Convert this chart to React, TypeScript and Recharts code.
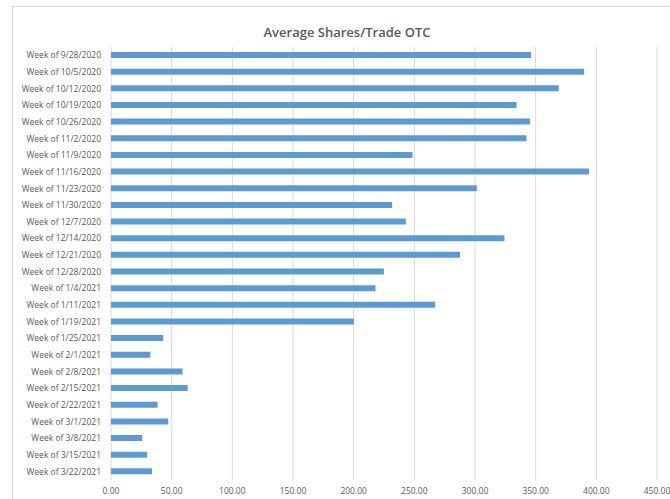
import { BarChart, Bar, XAxis, YAxis, CartesianGrid } from "recharts";

const WEEKS = [
  "Week of 9/28/2020",
  "Week of 10/5/2020",
  "Week of 10/12/2020",
  "Week of 10/19/2020",
  "Week of 10/26/2020",
  "Week of 11/2/2020",
  "Week of 11/9/2020",
  "Week of 11/16/2020",
  "Week of 11/23/2020",
  "Week of 11/30/2020",
  "Week of 12/7/2020",
  "Week of 12/14/2020",
  "Week of 12/21/2020",
  "Week of 12/28/2020",
  "Week of 1/4/2021",
  "Week of 1/11/2021",
  "Week of 1/19/2021",
  "Week of 1/25/2021",
  "Week of 2/1/2021",
  "Week of 2/8/2021",
  "Week of 2/15/2021",
  "Week of 2/22/2021",
  "Week of 3/1/2021",
  "Week of 3/8/2021",
  "Week of 3/15/2021",
  "Week of 3/22/2021",
];

const AVG_SHARES = [
  346.2, 389.9, 369.0, 334.2, 345.4, 342.4, 248.5, 394.0, 301.5, 231.7, 243.0, 324.3, 287.7,
  224.9, 218.0, 267.2, 200.2, 43.1, 32.4, 59.0, 63.2, 38.4, 47.2, 25.8, 29.7, 33.8,
];

const X_TICKS = [0, 50, 100, 150, 200, 250, 300, 350, 400, 450];

const data = WEEKS.map((week, i) => ({ week, value: AVG_SHARES[i] }));

const FONT = "'Open Sans', 'Noto Sans', sans-serif";
const TEXT = "#595959";

// plain svg text so long week labels don't get wrapped
function WeekTick(props: any) {
  const { x, y, payload } = props;
  return (
    <text x={x} y={y} dy="0.35em" textAnchor="end" fontSize={8.5} fill={TEXT} fontFamily={FONT}>
      {payload.value}
    </text>
  );
}

export default function App() {
  return (
    <div style={{ position: "relative", width: 670, height: 499, overflow: "hidden", background: "#fff", fontFamily: FONT }}>
      <style>{`body{margin:0}`}</style>
      <div
        style={{
          position: "absolute",
          left: 12,
          top: 6,
          width: 720,
          height: 540,
          border: "1px solid #D9D9D9",
        }}
      />
      <div
        style={{
          position: "absolute",
          left: 0,
          width: 694,
          top: 22,
          textAlign: "center",
          fontSize: 13,
          fontWeight: 600,
          color: TEXT,
          lineHeight: "20px",
        }}
      >
        Average Shares/Trade OTC
      </div>
      <div style={{ position: "absolute", left: 0, top: 0 }}>
        <BarChart
          width={670}
          height={499}
          data={data}
          layout="vertical"
          margin={{ top: 47, right: 13, left: 0, bottom: 1 }}
        >
          <CartesianGrid horizontal={false} stroke="#D9D9D9" strokeWidth={1} />
          <XAxis
            type="number"
            domain={[0, 450]}
            ticks={X_TICKS}
            tickFormatter={(v: number) => v.toFixed(2)}
            axisLine={false}
            tickLine={false}
            height={18}
            interval={0}
            tick={{ fontSize: 8.5, fill: TEXT, fontFamily: FONT }}
          />
          <YAxis
            type="category"
            dataKey="week"
            width={111}
            axisLine={false}
            tickLine={false}
            tickMargin={4}
            interval={0}
            tick={<WeekTick />}
          />
          <Bar dataKey="value" fill="#5B9BD5" barSize={6} isAnimationActive={false} />
        </BarChart>
      </div>
    </div>
  );
}
